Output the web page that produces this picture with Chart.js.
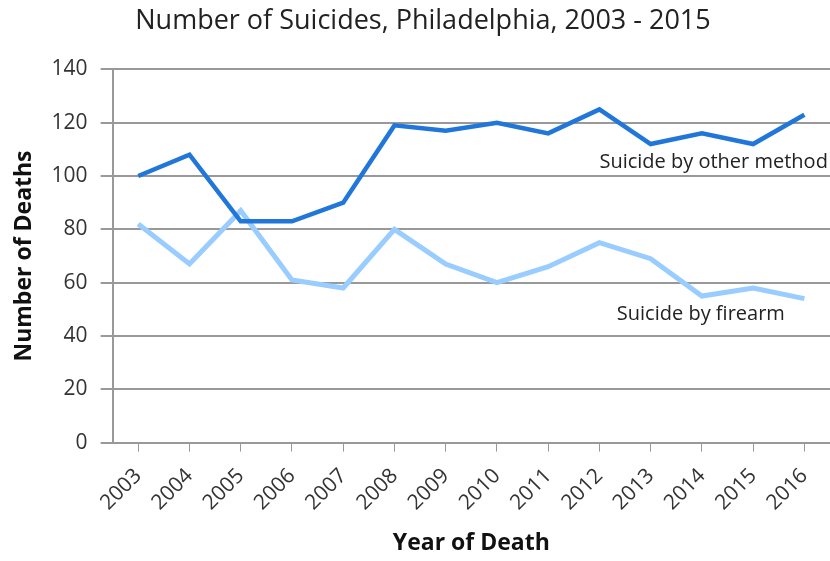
<!DOCTYPE html>
<html>
<head>
<meta charset="utf-8">
<script src="https://cdn.jsdelivr.net/npm/chart.js@4/dist/chart.umd.min.js"></script>
<style>
  html, body { margin: 0; padding: 0; background: #fff; }
</style>
</head>
<body>
<canvas id="chartSuicides" width="830" height="561"></canvas>
<script>
const years = ['2003', '2004', '2005', '2006', '2007', '2008', '2009', '2010', '2011', '2012', '2013', '2014', '2015', '2016'];
const otherMethod = [100, 108, 83, 83, 90, 119, 117, 120, 116, 125, 112, 116, 112, 123];
const firearm = [82, 67, 87, 61, 58, 80, 67, 60, 66, 75, 69, 55, 58, 54];
const yTicks = [0, 20, 40, 60, 80, 100, 120, 140];

// text labels placed next to the lines, in data coordinates
const lineLabels = [
    { text: 'Suicide by other method', x: 9.0, y: 105.3 },
    { text: 'Suicide by firearm', x: 9.34, y: 48 },
];

const fontFamily = '"Open Sans", "Noto Sans", sans-serif';

const lineLabelPlugin = {
    id: 'lineLabels',
    afterDatasetsDraw(chart) {
        const ctx = chart.ctx;
        const xScale = chart.scales.x;
        const yScale = chart.scales.y;
        ctx.save();
        ctx.font = '20px ' + fontFamily;
        ctx.fillStyle = '#222';
        ctx.textAlign = 'left';
        ctx.textBaseline = 'middle';
        lineLabels.forEach(function (item) {
            ctx.fillText(item.text, xScale.getPixelForValue(item.x), yScale.getPixelForValue(item.y));
        });
        ctx.restore();
    }
};

new Chart(document.getElementById('chartSuicides'), {
    type: 'line',
    data: {
        labels: years,
        datasets: [
            {
                label: 'Suicide by other method',
                data: otherMethod,
                borderColor: '#2176d9',
                borderWidth: 4.5,
                pointRadius: 0,
                tension: 0,
            },
            {
                label: 'Suicide by firearm',
                data: firearm,
                borderColor: '#99ccff',
                borderWidth: 5,
                pointRadius: 0,
                tension: 0,
            },
        ],
    },
    options: {
        responsive: false,
        animation: false,
        layout: {
            padding: { left: 7, right: -9, top: 0, bottom: 0 },
        },
        plugins: {
            legend: { display: false },
            tooltip: { enabled: false },
            title: {
                display: true,
                text: 'Number of Suicides, Philadelphia, 2003 - 2015',
                color: '#222',
                font: { family: fontFamily, size: 27, weight: 'normal' },
                padding: { top: 5, bottom: 32 },
            },
        },
        scales: {
            x: {
                offset: true,
                // the plot runs off the right edge in the original, so drop the label room there
                afterFit(scale) {
                    scale.paddingRight = -9;
                },
                grid: {
                    drawOnChartArea: false,
                    drawTicks: true,
                    tickLength: 9,
                    color: '#999',
                },
                border: { display: true, color: '#999', width: 2 },
                ticks: {
                    minRotation: 45,
                    maxRotation: 45,
                    color: '#333',
                    padding: 12,
                    font: { family: fontFamily, size: 21 },
                },
                title: {
                    display: true,
                    text: 'Year of Death',
                    color: '#111',
                    font: { family: fontFamily, size: 23, weight: 'bold' },
                    padding: { top: 2 },
                },
            },
            y: {
                min: 0,
                max: 140,
                afterBuildTicks(scale) {
                    scale.ticks = yTicks.map(function (v) { return { value: v }; });
                },
                grid: {
                    color: '#999',
                    lineWidth: 2,
                    tickLength: 12,
                },
                border: { display: true, color: '#999', width: 2 },
                ticks: {
                    color: '#333',
                    padding: 13,
                    font: { family: fontFamily, size: 21 },
                },
                title: {
                    display: true,
                    text: 'Number of Deaths',
                    color: '#111',
                    font: { family: fontFamily, size: 23, weight: 'bold' },
                    padding: { bottom: 0 },
                },
            },
        },
    },
    plugins: [lineLabelPlugin],
});
</script>
</body>
</html>
